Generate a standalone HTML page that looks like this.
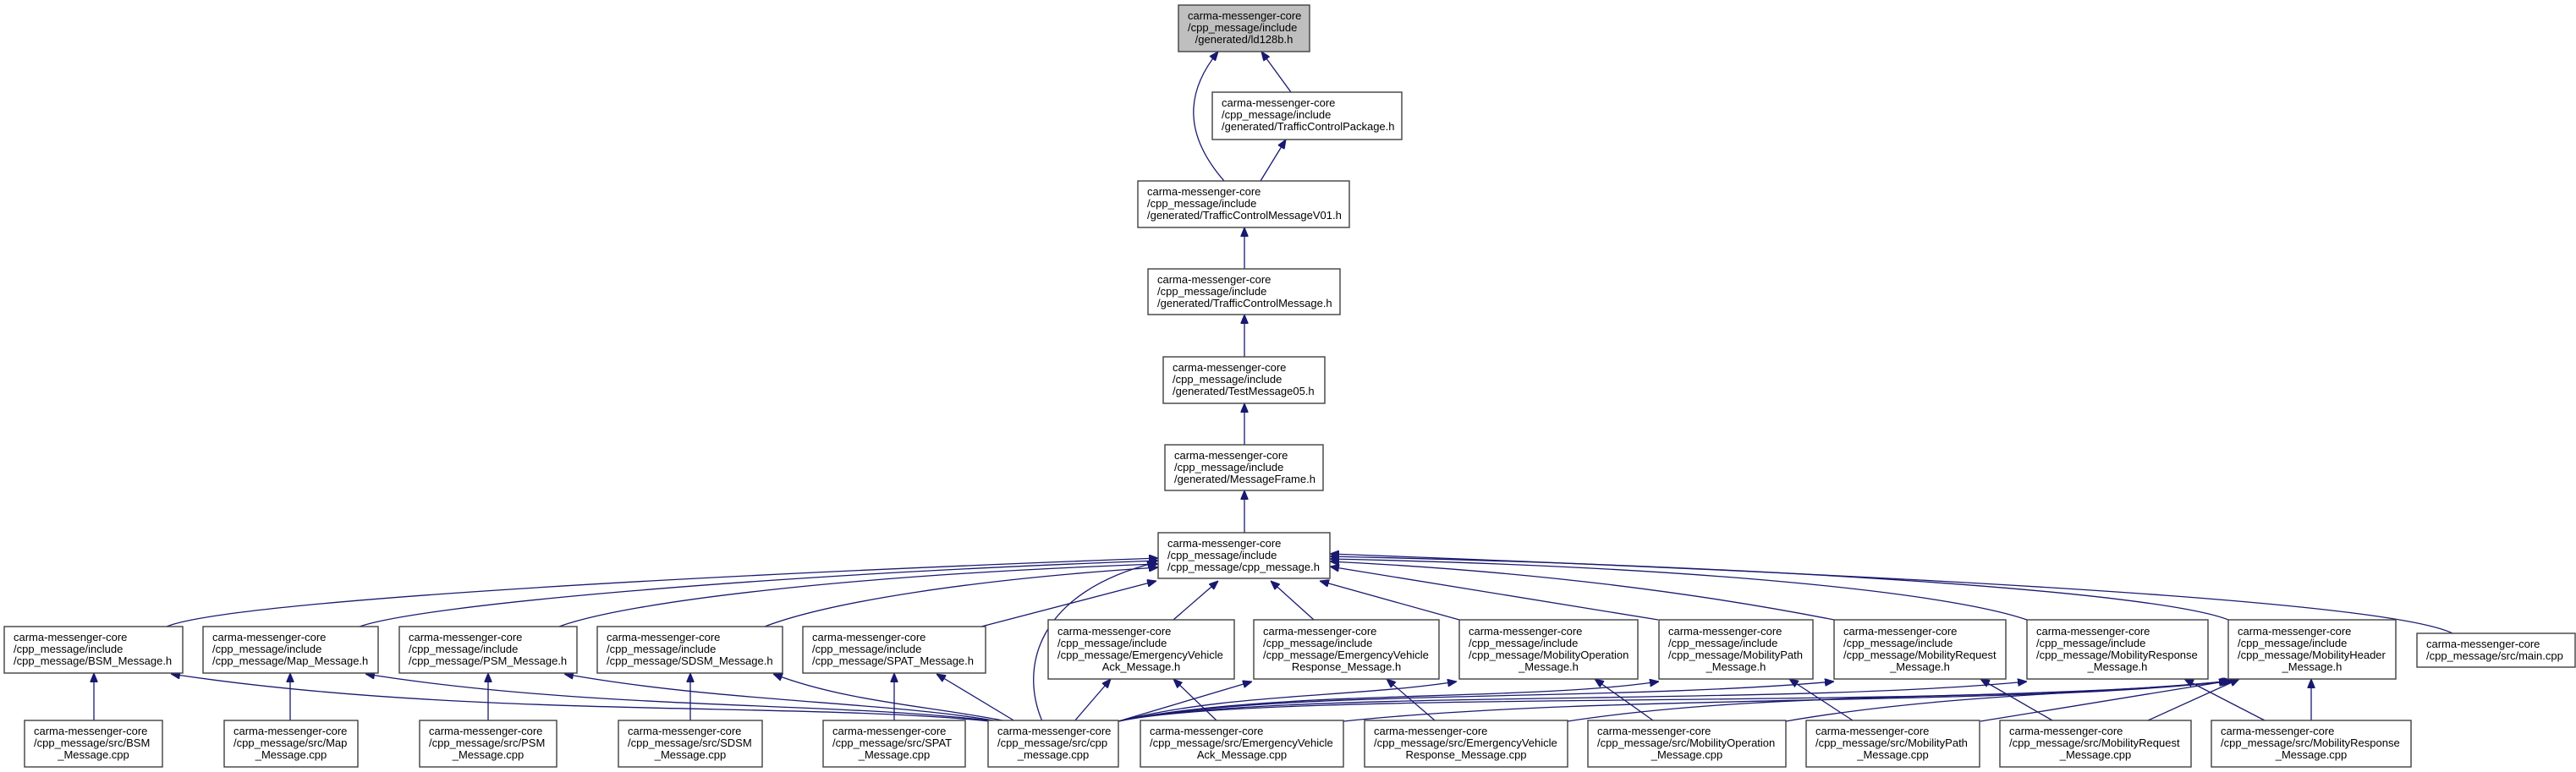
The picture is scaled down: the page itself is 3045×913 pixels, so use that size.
<!DOCTYPE html>
<html><head><meta charset="utf-8"><style>
html,body{margin:0;padding:0;background:#fff;}
svg{display:block;}
text{font-family:"Liberation Sans",Arial,sans-serif;font-size:13px;fill:#000;}
.b{fill:#fff;stroke:#404040;stroke-width:1.4;}
.g{fill:#bfbfbf;stroke:#404040;stroke-width:1.4;}
.e{fill:none;stroke:#191970;stroke-width:1.3;marker-end:url(#ah);}
.m{text-anchor:middle;}
</style></head><body>
<svg width="3045" height="913" viewBox="0 0 3045 913" xmlns="http://www.w3.org/2000/svg">
<defs><marker id="ah" markerUnits="userSpaceOnUse" markerWidth="11" markerHeight="9" refX="11" refY="4.5" orient="auto"><path d="M0,0 L11,4.5 L0,9 z" fill="#191970" stroke="#191970"/></marker></defs>

<!-- edges top chain -->
<path class="e" d="M1526,109 L1491,61"/>
<path class="e" d="M1447,214 C1400,160 1400,110 1440,61"/>
<path class="e" d="M1490,214 L1520,165"/>
<path class="e" d="M1471,318 L1471,269"/>
<path class="e" d="M1471,422 L1471,372"/>
<path class="e" d="M1471,526 L1471,477"/>
<path class="e" d="M1471,630 L1471,580"/>

<!-- row2 -> cpp_message.h -->
<path class="e" d="M197,741 C260,715 700,685 1369,660"/>
<path class="e" d="M425,741 C500,715 900,680 1369,663"/>
<path class="e" d="M661,741 C740,712 1000,680 1369,667"/>
<path class="e" d="M904,741 C980,712 1150,685 1369,671"/>
<path class="e" d="M1160,741 L1367,687"/>
<path class="e" d="M1387,733 L1440,687"/>
<path class="e" d="M1553,733 L1502,687"/>
<path class="e" d="M1725,733 L1560,687"/>
<path class="e" d="M1960,733 L1572,670"/>
<path class="e" d="M2168,733 C2000,700 1800,675 1572,664"/>
<path class="e" d="M2396,733 C2300,700 2000,670 1572,661"/>
<path class="e" d="M2634,733 C2550,700 2100,670 1572,658"/>
<path class="e" d="M2899,749 C2840,720 2500,690 1572,655"/>

<!-- cpp_message.cpp -> cpp_message.h -->
<path class="e" d="M1232,853 C1205,790 1225,700 1367,665"/>

<!-- bottom -> row2 verticals -->
<path class="e" d="M111,852 L111,796"/>
<path class="e" d="M343,852 L343,796"/>
<path class="e" d="M577,852 L577,796"/>
<path class="e" d="M816,852 L816,796"/>
<path class="e" d="M1057,852 L1057,796"/>
<path class="e" d="M2732,852 L2732,803"/>

<!-- cpp_message.cpp -> A..E -->
<path class="e" d="M1170,853 C950,830 550,850 202,797"/>
<path class="e" d="M1175,853 C1000,830 700,840 432,797"/>
<path class="e" d="M1180,853 C1050,830 850,830 667,797"/>
<path class="e" d="M1190,853 C1100,835 1000,830 914,797"/>
<path class="e" d="M1200,853 L1107,797"/>

<!-- cpp_message.cpp -> F..L -->
<path class="e" d="M1270,853 L1313,803"/>
<path class="e" d="M1322,853 L1480,806"/>
<path class="e" d="M1322,853 C1450,820 1600,825 1722,806"/>
<path class="e" d="M1322,853 C1500,815 1800,830 1961,806"/>
<path class="e" d="M1322,853 C1500,815 1900,830 2168,806"/>
<path class="e" d="M1322,853 C1500,815 2100,835 2396,806"/>
<path class="e" d="M1322,853 C1500,815 2300,840 2634,806"/>

<!-- src -> own headers -->
<path class="e" d="M1438,852 L1387,803"/>
<path class="e" d="M1696,852 L1639,803"/>
<path class="e" d="M1954,852 L1885,803"/>
<path class="e" d="M2190,852 L2115,803"/>
<path class="e" d="M2426,852 L2341,803"/>
<path class="e" d="M2677,852 L2582,803"/>

<!-- src -> MobilityHeader -->
<path class="e" d="M1588,853 C1900,820 2400,835 2636,805"/>
<path class="e" d="M1853,853 C2100,815 2400,830 2638,805"/>
<path class="e" d="M2111,853 C2300,820 2500,820 2640,805"/>
<path class="e" d="M2341,853 L2636,805"/>
<path class="e" d="M2539,852 L2647,803"/>

<!-- nodes -->
<rect class="g" x="1393" y="6" width="155" height="55"/>
<text x="1404" y="23">carma-messenger-core</text><text x="1404" y="37">/cpp_message/include</text><text class="m" x="1470.5" y="51">/generated/ld128b.h</text>

<rect class="b" x="1433" y="109" width="224" height="56"/>
<text x="1444" y="126">carma-messenger-core</text><text x="1444" y="140">/cpp_message/include</text><text x="1444" y="154">/generated/TrafficControlPackage.h</text>

<rect class="b" x="1345" y="214" width="250" height="55"/>
<text x="1356" y="231">carma-messenger-core</text><text x="1356" y="245">/cpp_message/include</text><text x="1356" y="259">/generated/TrafficControlMessageV01.h</text>

<rect class="b" x="1357" y="318" width="227" height="54"/>
<text x="1368" y="335">carma-messenger-core</text><text x="1368" y="349">/cpp_message/include</text><text x="1368" y="363">/generated/TrafficControlMessage.h</text>

<rect class="b" x="1375" y="422" width="191" height="55"/>
<text x="1386" y="439">carma-messenger-core</text><text x="1386" y="453">/cpp_message/include</text><text x="1386" y="467">/generated/TestMessage05.h</text>

<rect class="b" x="1377" y="526" width="187" height="54"/>
<text x="1388" y="543">carma-messenger-core</text><text x="1388" y="557">/cpp_message/include</text><text x="1388" y="571">/generated/MessageFrame.h</text>

<rect class="b" x="1369" y="630" width="203" height="54"/>
<text x="1380" y="647">carma-messenger-core</text><text x="1380" y="661">/cpp_message/include</text><text x="1380" y="675">/cpp_message/cpp_message.h</text>

<!-- row 2 -->
<rect class="b" x="5" y="741" width="211" height="55"/>
<text x="16" y="758">carma-messenger-core</text><text x="16" y="772">/cpp_message/include</text><text x="16" y="786">/cpp_message/BSM_Message.h</text>
<rect class="b" x="240" y="741" width="207" height="55"/>
<text x="251" y="758">carma-messenger-core</text><text x="251" y="772">/cpp_message/include</text><text x="251" y="786">/cpp_message/Map_Message.h</text>
<rect class="b" x="472" y="741" width="210" height="55"/>
<text x="483" y="758">carma-messenger-core</text><text x="483" y="772">/cpp_message/include</text><text x="483" y="786">/cpp_message/PSM_Message.h</text>
<rect class="b" x="706" y="741" width="219" height="55"/>
<text x="717" y="758">carma-messenger-core</text><text x="717" y="772">/cpp_message/include</text><text x="717" y="786">/cpp_message/SDSM_Message.h</text>
<rect class="b" x="949" y="741" width="216" height="55"/>
<text x="960" y="758">carma-messenger-core</text><text x="960" y="772">/cpp_message/include</text><text x="960" y="786">/cpp_message/SPAT_Message.h</text>

<rect class="b" x="1239" y="733" width="220" height="70"/>
<text x="1250" y="751">carma-messenger-core</text><text x="1250" y="765">/cpp_message/include</text><text x="1250" y="779">/cpp_message/EmergencyVehicle</text><text class="m" x="1349" y="793">Ack_Message.h</text>
<rect class="b" x="1482" y="733" width="219" height="70"/>
<text x="1493" y="751">carma-messenger-core</text><text x="1493" y="765">/cpp_message/include</text><text x="1493" y="779">/cpp_message/EmergencyVehicle</text><text class="m" x="1591.5" y="793">Response_Message.h</text>
<rect class="b" x="1725" y="733" width="211" height="70"/>
<text x="1736" y="751">carma-messenger-core</text><text x="1736" y="765">/cpp_message/include</text><text x="1736" y="779">/cpp_message/MobilityOperation</text><text class="m" x="1830.5" y="793">_Message.h</text>
<rect class="b" x="1961" y="733" width="182" height="70"/>
<text x="1972" y="751">carma-messenger-core</text><text x="1972" y="765">/cpp_message/include</text><text x="1972" y="779">/cpp_message/MobilityPath</text><text class="m" x="2052" y="793">_Message.h</text>
<rect class="b" x="2168" y="733" width="203" height="70"/>
<text x="2179" y="751">carma-messenger-core</text><text x="2179" y="765">/cpp_message/include</text><text x="2179" y="779">/cpp_message/MobilityRequest</text><text class="m" x="2269.5" y="793">_Message.h</text>
<rect class="b" x="2396" y="733" width="214" height="70"/>
<text x="2407" y="751">carma-messenger-core</text><text x="2407" y="765">/cpp_message/include</text><text x="2407" y="779">/cpp_message/MobilityResponse</text><text class="m" x="2503" y="793">_Message.h</text>
<rect class="b" x="2634" y="733" width="198" height="70"/>
<text x="2645" y="751">carma-messenger-core</text><text x="2645" y="765">/cpp_message/include</text><text x="2645" y="779">/cpp_message/MobilityHeader</text><text class="m" x="2733" y="793">_Message.h</text>
<rect class="b" x="2857" y="749" width="187" height="40"/>
<text x="2868" y="766">carma-messenger-core</text><text x="2868" y="780">/cpp_message/src/main.cpp</text>

<!-- row 3 -->
<rect class="b" x="29" y="852" width="163" height="55"/>
<text x="40" y="869">carma-messenger-core</text><text x="40" y="883">/cpp_message/src/BSM</text><text class="m" x="110.5" y="897">_Message.cpp</text>
<rect class="b" x="265" y="852" width="158" height="55"/>
<text x="276" y="869">carma-messenger-core</text><text x="276" y="883">/cpp_message/src/Map</text><text class="m" x="344" y="897">_Message.cpp</text>
<rect class="b" x="496" y="852" width="162" height="55"/>
<text x="507" y="869">carma-messenger-core</text><text x="507" y="883">/cpp_message/src/PSM</text><text class="m" x="577" y="897">_Message.cpp</text>
<rect class="b" x="731" y="852" width="170" height="55"/>
<text x="742" y="869">carma-messenger-core</text><text x="742" y="883">/cpp_message/src/SDSM</text><text class="m" x="816" y="897">_Message.cpp</text>
<rect class="b" x="973" y="852" width="168" height="55"/>
<text x="984" y="869">carma-messenger-core</text><text x="984" y="883">/cpp_message/src/SPAT</text><text class="m" x="1057" y="897">_Message.cpp</text>
<rect class="b" x="1168" y="852" width="154" height="55"/>
<text x="1179" y="869">carma-messenger-core</text><text x="1179" y="883">/cpp_message/src/cpp</text><text class="m" x="1245" y="897">_message.cpp</text>
<rect class="b" x="1348" y="852" width="240" height="55"/>
<text x="1359" y="869">carma-messenger-core</text><text x="1359" y="883">/cpp_message/src/EmergencyVehicle</text><text class="m" x="1468" y="897">Ack_Message.cpp</text>
<rect class="b" x="1613" y="852" width="240" height="55"/>
<text x="1624" y="869">carma-messenger-core</text><text x="1624" y="883">/cpp_message/src/EmergencyVehicle</text><text class="m" x="1733" y="897">Response_Message.cpp</text>
<rect class="b" x="1877" y="852" width="234" height="55"/>
<text x="1888" y="869">carma-messenger-core</text><text x="1888" y="883">/cpp_message/src/MobilityOperation</text><text class="m" x="1994" y="897">_Message.cpp</text>
<rect class="b" x="2135" y="852" width="205" height="55"/>
<text x="2146" y="869">carma-messenger-core</text><text x="2146" y="883">/cpp_message/src/MobilityPath</text><text class="m" x="2237.5" y="897">_Message.cpp</text>
<rect class="b" x="2364" y="852" width="226" height="55"/>
<text x="2375" y="869">carma-messenger-core</text><text x="2375" y="883">/cpp_message/src/MobilityRequest</text><text class="m" x="2477" y="897">_Message.cpp</text>
<rect class="b" x="2614" y="852" width="236" height="55"/>
<text x="2625" y="869">carma-messenger-core</text><text x="2625" y="883">/cpp_message/src/MobilityResponse</text><text class="m" x="2732" y="897">_Message.cpp</text>
</svg>
</body></html>
